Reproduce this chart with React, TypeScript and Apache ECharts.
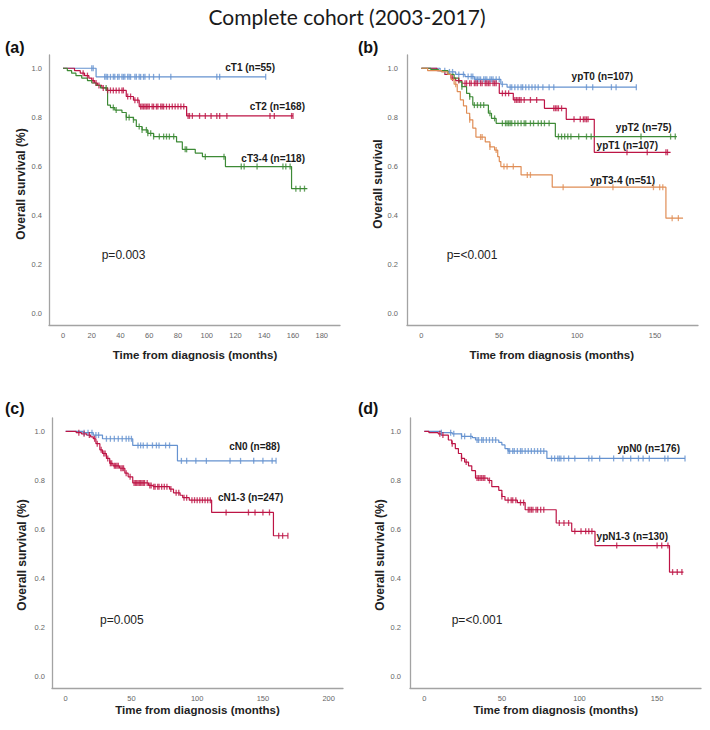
import React, { useEffect, useRef } from "react";
import * as echarts from "echarts";

const TITLE = "Complete cohort (2003-2017)";
const PANEL_LETTERS = ["(a)", "(b)", "(c)", "(d)"];
const P_VALUES = ["p=0.003", "p=<0.001", "p=0.005", "p=<0.001"];
const Y_TITLES = ["Overall survival (%)", "Overall survival", "Overall survival (%)", "Overall survival (%)"];
const X_TITLE = "Time from diagnosis (months)";
const X_TICKS_A = [0, 20, 40, 60, 80, 100, 120, 140, 160, 180];
const X_TICKS_B = [0, 50, 100, 150];
const X_TICKS_C = [0, 50, 100, 150, 200];
const X_TICKS_D = [0, 50, 100, 150];
const Y_TICKS = [0, 0.2, 0.4, 0.6, 0.8, 1.0];

// ---- (a) clinical T stage ----
const aT1Name = "cT1 (n=55)";
const aT1Time = [0, 23, 141];
const aT1Surv = [1, 0.965, 0.965];
const aT1Cens = [20, 21, 29, 30, 31, 33, 35, 36, 38, 39, 41, 42, 43, 45, 46, 47, 50, 51, 53, 54, 56, 57, 60, 63, 67, 75, 107, 109, 141];

const aT2Name = "cT2 (n=168)";
const aT2Time = [0, 8, 12, 15, 18, 20, 22, 24, 27, 30, 44, 49, 53, 86, 160];
const aT2Surv = [1, 0.99, 0.98, 0.97, 0.96, 0.95, 0.94, 0.93, 0.92, 0.91, 0.885, 0.87, 0.844, 0.806, 0.806];
const aT2Cens = [14, 17, 21, 23, 25, 28, 31, 33, 35, 37, 39, 41, 42, 45, 47, 50, 52, 54, 55, 56, 57, 58, 59, 60, 62, 63, 65, 66, 68, 69, 70, 72, 74, 76, 78, 80, 82, 84, 87, 88, 90, 95, 99, 103, 107, 109, 114, 144, 147, 159, 160];

const aT34Name = "cT3-4 (n=118)";
const aT34Time = [0, 3, 6, 9, 13, 17, 20, 23, 26, 31, 33, 36, 41, 44, 49, 51, 55, 59, 63, 79, 83, 92, 97, 113, 159, 170];
const aT34Surv = [1, 0.99, 0.98, 0.97, 0.96, 0.95, 0.94, 0.93, 0.92, 0.85, 0.84, 0.83, 0.82, 0.8, 0.79, 0.763, 0.749, 0.735, 0.722, 0.7, 0.67, 0.655, 0.64, 0.6, 0.51, 0.51];
const aT34Cens = [30, 35, 37, 44, 46, 49, 53, 55, 58, 59, 61, 63, 67, 70, 72, 74, 77, 85, 86, 99, 112, 124, 126, 135, 153, 155, 158, 162, 165, 168];

// ---- (b) pathological T stage ----
const bT0Name = "ypT0 (n=107)";
const bT0Time = [0, 12, 17, 22, 28, 34, 51, 55, 138];
const bT0Surv = [1, 0.99, 0.985, 0.975, 0.966, 0.955, 0.935, 0.923, 0.923];
const bT0Cens = [15, 18, 20, 24, 27, 30, 32, 33, 35, 36, 37, 38, 40, 41, 42, 44, 45, 46, 48, 50, 52, 57, 58, 60, 62, 64, 65, 67, 69, 71, 73, 75, 78, 82, 85, 106, 110, 122, 125, 138];

const bT1Name = "ypT1 (n=107)";
const bT1Time = [0, 10, 15, 19, 22, 26, 50, 59, 79, 93, 111, 160];
const bT1Surv = [1, 0.99, 0.975, 0.96, 0.95, 0.939, 0.898, 0.871, 0.837, 0.792, 0.658, 0.658];
const bT1Cens = [20, 24, 28, 29, 31, 32, 34, 35, 36, 38, 39, 41, 42, 43, 44, 46, 47, 48, 52, 54, 56, 60, 61, 62, 63, 64, 66, 70, 74, 85, 86, 87, 88, 90, 98, 102, 104, 105, 106, 107, 132, 145, 157, 158];

const bT2Name = "ypT2 (n=75)";
const bT2Time = [0, 6, 11, 17, 21, 24, 26, 29, 31, 33, 43, 45, 48, 86, 164];
const bT2Surv = [1, 0.995, 0.99, 0.975, 0.96, 0.945, 0.925, 0.898, 0.884, 0.85, 0.817, 0.796, 0.776, 0.722, 0.722];
const bT2Cens = [26, 31, 34, 36, 38, 40, 44, 47, 52, 54, 55, 56, 57, 58, 60, 62, 64, 66, 67, 70, 72, 75, 77, 79, 82, 88, 90, 92, 94, 96, 101, 106, 109, 141, 160, 163];

const bT34Name = "ypT3-4 (n=51)";
const bT34Time = [0, 4, 13, 17, 19, 21, 23, 25, 27, 29, 31, 33, 35, 41, 44, 47, 49, 50, 51, 64, 84, 157, 168];
const bT34Surv = [1, 0.99, 0.985, 0.975, 0.955, 0.935, 0.905, 0.871, 0.847, 0.817, 0.79, 0.756, 0.72, 0.7, 0.68, 0.667, 0.64, 0.62, 0.6, 0.566, 0.516, 0.39, 0.39];
const bT34Cens = [22, 31, 38, 39, 44, 48, 53, 55, 59, 68, 70, 91, 123, 149, 153, 155, 161, 165];

// ---- (c) clinical N stage ----
const cN0Name = "cN0 (n=88)";
const cN0Time = [0, 13, 21, 28, 51, 85, 160];
const cN0Surv = [1, 0.995, 0.985, 0.97, 0.943, 0.88, 0.88];
const cN0Cens = [14, 17, 20, 23, 25, 31, 34, 37, 40, 43, 46, 48, 50, 55, 57, 59, 62, 66, 69, 71, 76, 79, 88, 92, 99, 107, 125, 133, 143, 150, 157, 160];

const cN13Name = "cN1-3 (n=247)";
const cN13Time = [0, 8, 12, 16, 19, 21, 23, 26, 28, 31, 33.5, 36, 41, 45, 47.5, 51, 63, 66.5, 79, 82, 87, 89, 94, 111, 158, 169];
const cN13Surv = [1, 0.995, 0.99, 0.985, 0.978, 0.97, 0.95, 0.925, 0.91, 0.89, 0.87, 0.86, 0.85, 0.83, 0.815, 0.79, 0.78, 0.775, 0.765, 0.75, 0.74, 0.73, 0.72, 0.67, 0.575, 0.575];
const cN13Cens = [10, 14, 18, 22, 24, 27, 29, 30, 32, 34, 35, 37, 38, 39, 40, 42, 43, 44, 46, 49, 52, 53, 54, 55, 56, 57, 58, 59, 60, 62, 64, 65, 67, 68, 70, 71, 73, 75, 77, 80, 84, 86, 90, 92, 96, 98, 100, 102, 104, 106, 108, 110, 122, 139, 144, 150, 155, 162, 165, 169];

// ---- (d) pathological N stage ----
const dN0Name = "ypN0 (n=176)";
const dN0Time = [0, 11, 18, 24, 31, 33, 48, 50, 52, 54, 79, 168];
const dN0Surv = [1, 0.995, 0.99, 0.98, 0.975, 0.965, 0.955, 0.945, 0.93, 0.92, 0.89, 0.89];
const dN0Cens = [11, 17, 19, 24, 26, 30, 34, 35, 37, 38, 40, 42, 44, 46, 54, 55, 57, 58, 60, 62, 63, 65, 67, 69, 71, 73, 75, 77, 82, 84, 86, 87, 88, 90, 93, 97, 106, 108, 113, 122, 128, 133, 138, 141, 145, 155, 157, 168];

const dN13Name = "ypN1-3 (n=130)";
const dN13Time = [0, 3, 9, 11, 15.5, 17.7, 20, 22, 24, 26, 28.5, 30.6, 33, 41, 43.5, 48, 50, 52, 60, 65, 85, 95, 110, 158, 167];
const dN13Surv = [1, 0.995, 0.99, 0.985, 0.965, 0.95, 0.93, 0.91, 0.89, 0.875, 0.86, 0.84, 0.81, 0.8, 0.775, 0.76, 0.735, 0.72, 0.71, 0.681, 0.627, 0.593, 0.535, 0.427, 0.427];
const dN13Cens = [10, 12, 18, 24, 27, 34, 35, 36, 37, 38, 39, 42, 50, 54, 56, 57, 59, 62, 64, 67, 68, 69, 70, 72, 73, 75, 77, 87, 90, 93, 97, 101, 104, 106, 108, 124, 150, 153, 157, 160, 163, 166];

const BLUE = "#6592d0";
const RED = "#bd1445";
const GREEN = "#3d8a36";
const ORANGE = "#e08d55";

function stepData(t: number[], s: number[]) {
  return t.map((x, i) => [x, s[i]]);
}
function censorData(t: number[], s: number[], c: number[]) {
  return c.map((ct) => {
    let v = s[0];
    for (let i = 0; i < t.length; i++) if (t[i] <= ct) v = s[i];
    return [ct, v];
  });
}

type Curve = { name: string; t: number[]; s: number[]; c: number[]; color: string };

const panels: { curves: Curve[]; ticks: number[]; grid: any; xMin: number; xMax: number; yMin: number; yMax: number }[] = [
  {
    curves: [
      { name: aT1Name, t: aT1Time, s: aT1Surv, c: aT1Cens, color: BLUE },
      { name: aT2Name, t: aT2Time, s: aT2Surv, c: aT2Cens, color: RED },
      { name: aT34Name, t: aT34Time, s: aT34Surv, c: aT34Cens, color: GREEN },
    ],
    ticks: X_TICKS_A,
    grid: { left: 49, top: 55, width: 291, height: 270 },
    xMin: -9.75, xMax: 192.7, yMin: -0.045, yMax: 1.054,
  },
  {
    curves: [
      { name: bT0Name, t: bT0Time, s: bT0Surv, c: bT0Cens, color: BLUE },
      { name: bT1Name, t: bT1Time, s: bT1Surv, c: bT1Cens, color: RED },
      { name: bT2Name, t: bT2Time, s: bT2Surv, c: bT2Cens, color: GREEN },
      { name: bT34Name, t: bT34Time, s: bT34Surv, c: bT34Cens, color: ORANGE },
    ],
    ticks: X_TICKS_B,
    grid: { left: 407, top: 55, width: 291, height: 270 },
    xMin: -9.25, xMax: 177.6, yMin: -0.045, yMax: 1.054,
  },
  {
    curves: [
      { name: cN0Name, t: cN0Time, s: cN0Surv, c: cN0Cens, color: BLUE },
      { name: cN13Name, t: cN13Time, s: cN13Surv, c: cN13Cens, color: RED },
    ],
    ticks: X_TICKS_C,
    grid: { left: 52, top: 418, width: 291, height: 270 },
    xMin: -10.4, xMax: 210.9, yMin: -0.045, yMax: 1.0546,
  },
  {
    curves: [
      { name: dN0Name, t: dN0Time, s: dN0Surv, c: dN0Cens, color: BLUE },
      { name: dN13Name, t: dN13Time, s: dN13Surv, c: dN13Cens, color: RED },
    ],
    ticks: X_TICKS_D,
    grid: { left: 410, top: 418, width: 291, height: 270 },
    xMin: -9.2, xMax: 178.3, yMin: -0.045, yMax: 1.0546,
  },
];

// annotation placements
const LETTER_POS = [[5, 47], [358, 47], [5, 408], [358, 408]];
const YTITLE_POS = [[20.7, 184], [377.7, 184], [22, 555], [380, 555]];
const XTITLE_POS = [[195, 355], [551.7, 355], [197.5, 710], [555.8, 710]];
const PVAL_POS = [[101.7, 255], [446.7, 255], [100, 620], [451.7, 620]];
const CURVE_LABEL_POS = [
  [[275, 67.7], [305, 106.7], [305, 158.3]],
  [[633, 76.7], [658, 145], [671.7, 127.7], [655, 180.7]],
  [[280, 446.7], [283.3, 497.7]],
  [[680, 448.3], [668, 536.7]],
];

const BOLD = "'Liberation Sans', Arial, Helvetica, sans-serif";
const NARROW = "'Liberation Sans Narrow', 'Arial Narrow', 'Liberation Sans', Arial, sans-serif";

export default function App() {
  const ref = useRef<HTMLDivElement>(null);
  useEffect(() => {
    if (!ref.current) return;
    const chart = echarts.init(ref.current, undefined, { renderer: "svg" });
    const grids: any[] = [];
    const xAxes: any[] = [];
    const yAxes: any[] = [];
    const series: any[] = [];
    const graphic: any[] = [];

    graphic.push({
      type: "text",
      x: 347,
      y: 16,
      style: { text: TITLE, font: "21px Lato, 'Open Sans', sans-serif", fill: "#1a1a1a", textAlign: "center", textVerticalAlign: "middle" },
    });

    panels.forEach((p, k) => {
      grids.push({ ...p.grid, containLabel: false });
      xAxes.push({
        type: "value",
        gridIndex: k,
        min: p.xMin,
        max: p.xMax,
        axisLine: { show: true, onZero: false, lineStyle: { color: "#a3a3a3", width: 1.3 } },
        axisTick: { show: false },
        splitLine: { show: false },
        axisLabel: { customValues: p.ticks, margin: 6, fontSize: 7.5, color: "#666666", fontFamily: "'Liberation Sans', Arial, sans-serif" },
      });
      yAxes.push({
        type: "value",
        gridIndex: k,
        min: p.yMin,
        max: p.yMax,
        axisLine: { show: true, onZero: false, lineStyle: { color: "#a3a3a3", width: 1.3 } },
        axisTick: { show: false },
        splitLine: { show: false },
        axisLabel: {
          customValues: Y_TICKS,
          margin: k === 1 || k === 3 ? 9 : 7,
          fontSize: 7.5,
          color: "#666666",
          fontFamily: "'Liberation Sans', Arial, sans-serif",
          formatter: (v: number) => v.toFixed(1),
        },
      });
      p.curves.forEach((c, j) => {
        series.push({
          type: "line",
          name: c.name,
          xAxisIndex: k,
          yAxisIndex: k,
          step: "end",
          showSymbol: false,
          symbol: "none",
          data: stepData(c.t, c.s),
          lineStyle: { color: c.color, width: 1.2 },
          z: 2 + j,
        });
        series.push({
          type: "scatter",
          name: c.name + " censored",
          xAxisIndex: k,
          yAxisIndex: k,
          symbol: "rect",
          symbolSize: [1.3, 6],
          data: censorData(c.t, c.s, c.c),
          itemStyle: { color: c.color },
          z: 3 + j,
        });
        const pos = CURVE_LABEL_POS[k][j];
        graphic.push({
          type: "text",
          x: pos[0],
          y: pos[1],
          style: { text: c.name, font: "bold 10px " + NARROW, fill: "#1a1a1a", textAlign: "right", textVerticalAlign: "middle" },
        });
      });
      graphic.push({
        type: "text",
        x: LETTER_POS[k][0],
        y: LETTER_POS[k][1],
        style: { text: PANEL_LETTERS[k], font: "bold 16px " + BOLD, fill: "#111", textAlign: "left", textVerticalAlign: "middle" },
      });
      graphic.push({
        type: "text",
        x: YTITLE_POS[k][0],
        y: YTITLE_POS[k][1],
        rotation: Math.PI / 2,
        style: { text: Y_TITLES[k], font: "bold 12px " + BOLD, fill: "#222", textAlign: "center", textVerticalAlign: "middle" },
      });
      graphic.push({
        type: "text",
        x: XTITLE_POS[k][0],
        y: XTITLE_POS[k][1],
        style: { text: X_TITLE, font: "bold 11.5px " + BOLD, fill: "#222", textAlign: "center", textVerticalAlign: "middle" },
      });
      graphic.push({
        type: "text",
        x: PVAL_POS[k][0],
        y: PVAL_POS[k][1],
        style: { text: P_VALUES[k], font: "12px " + BOLD, fill: "#222", textAlign: "left", textVerticalAlign: "middle" },
      });
    });

    chart.setOption({
      animation: false,
      backgroundColor: "#ffffff",
      grid: grids,
      xAxis: xAxes,
      yAxis: yAxes,
      series,
      graphic,
    });
    return () => chart.dispose();
  }, []);
  return <div ref={ref} style={{ position: "absolute", left: 0, top: 0, width: 710, height: 730 }} />;
}
